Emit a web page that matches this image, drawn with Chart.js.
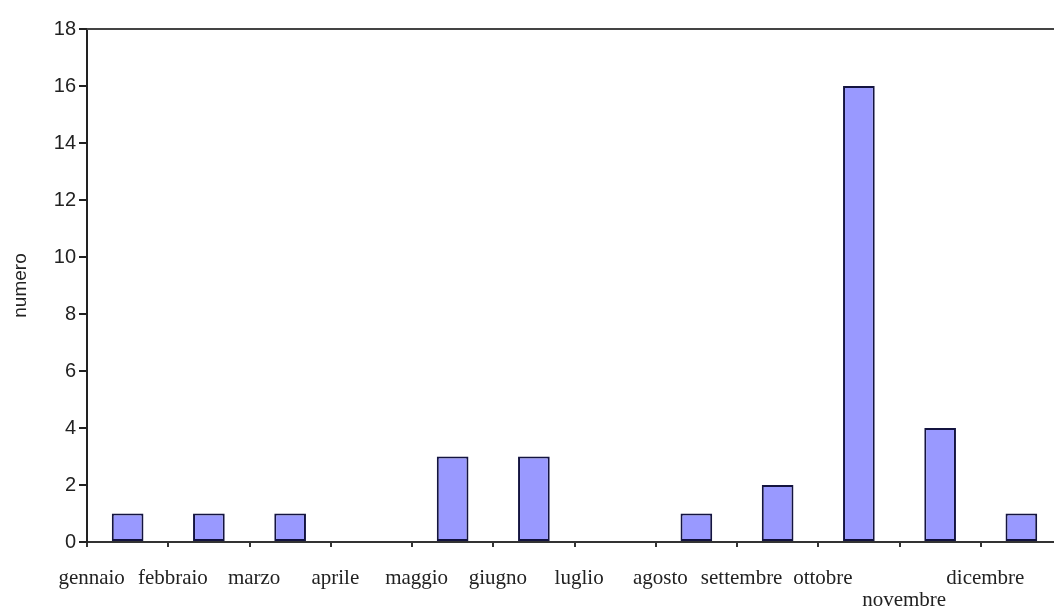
<!DOCTYPE html>
<html>
<head>
<meta charset="utf-8">
<script src="https://cdn.jsdelivr.net/npm/chart.js@4/dist/chart.umd.min.js"></script>
<style>
  html, body { margin: 0; padding: 0; background: #fff; overflow: hidden; }
  #monthChart { display: block; }
</style>
</head>
<body>
<canvas id="monthChart" width="1062" height="610"></canvas>
<script>
// ===== DATA =====
const months = ["gennaio", "febbraio", "marzo", "aprile", "maggio", "giugno",
  "luglio", "agosto", "settembre", "ottobre", "novembre", "dicembre"];
const counts = [1, 1, 1, 0, 3, 3, 0, 1, 2, 16, 4, 1];
const yTicks = [0, 2, 4, 6, 8, 10, 12, 14, 16, 18];

// top frame line across the plot
const topLine = {
  id: "topLine",
  afterDraw(chart) {
    const { ctx, chartArea } = chart;
    ctx.save();
    ctx.strokeStyle = "#444";
    ctx.lineWidth = 2;
    ctx.beginPath();
    ctx.moveTo(chartArea.left, chartArea.top);
    ctx.lineTo(chart.width, chartArea.top);
    ctx.stroke();
    ctx.restore();
  }
};

const ctx = document.getElementById("monthChart").getContext("2d");

new Chart(ctx, {
  type: "bar",
  data: {
    labels: months,
    datasets: [{
      label: "numero",
      data: counts,
      backgroundColor: "#9999ff",
      borderColor: "#141440",
      borderWidth: 2,
      borderSkipped: false,
      barPercentage: 0.39,
      categoryPercentage: 1
    }]
  },
  options: {
    responsive: false,
    animation: false,
    layout: { padding: { top: 29, left: 0, right: 0, bottom: 0 } },
    plugins: {
      legend: { display: false },
      tooltip: { enabled: false }
    },
    scales: {
      x: {
        afterFit: scale => {
          scale.height = 68;
          scale.paddingLeft = 0;
          scale.paddingRight = 0;
        },
        border: { display: true, color: "#333", width: 2 },
        grid: {
          display: true,
          offset: true,
          drawOnChartArea: false,
          drawTicks: true,
          tickLength: 5,
          color: "#333",
          lineWidth: 2
        },
        ticks: {
          autoSkip: false,
          maxRotation: 0,
          minRotation: 0,
          labelOffset: -36,
          padding: 20,
          color: "#222",
          font: { family: "'Liberation Serif', 'Times New Roman', serif", size: 21, lineHeight: 1.05 },
          callback: (v, i) => months[i] === "novembre" ? ["", months[i]] : months[i]
        }
      },
      y: {
        min: 0,
        max: 18,
        afterFit: scale => { scale.width = 87; },
        afterBuildTicks: scale => { scale.ticks = yTicks.map(v => ({ value: v })); },
        border: { display: true, color: "#222", width: 2 },
        grid: {
          display: true,
          drawOnChartArea: false,
          drawTicks: true,
          tickLength: 8,
          color: "#222",
          lineWidth: 2
        },
        ticks: {
          padding: 3,
          color: "#222",
          font: { family: "'Liberation Sans', Arial, sans-serif", size: 20 }
        },
        title: {
          display: true,
          text: "numero",
          color: "#222",
          padding: { top: 9, bottom: 0 },
          font: { family: "'Liberation Sans', Arial, sans-serif", size: 19 }
        }
      }
    }
  },
  plugins: [topLine]
});
</script>
</body>
</html>
